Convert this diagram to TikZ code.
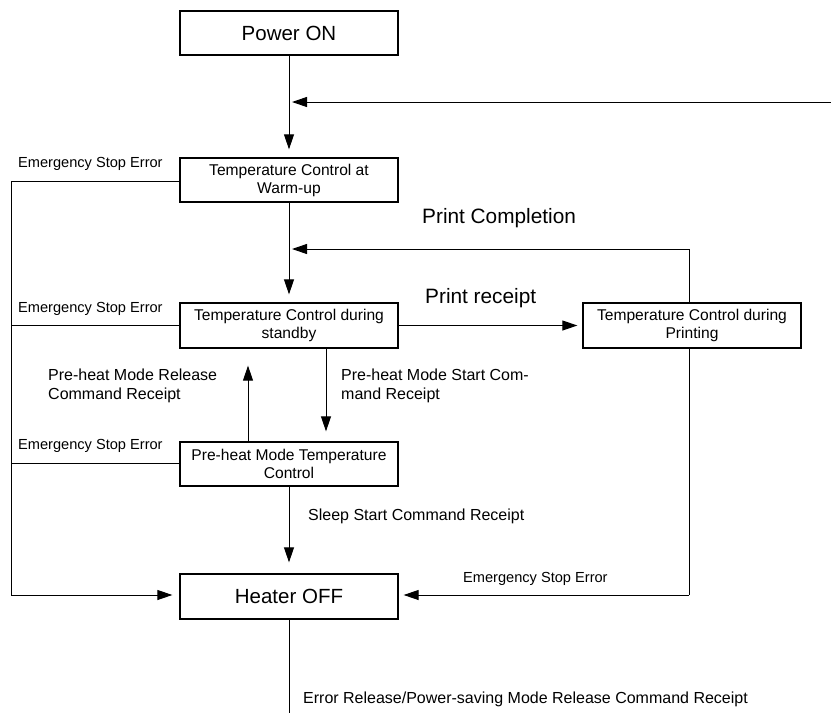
\documentclass[tikz,border=0pt]{standalone}
\usepackage{fontspec}
\setmainfont{Liberation Sans}
\usetikzlibrary{arrows.meta}
\begin{document}
\begin{tikzpicture}[x=1pt,y=-1pt,
  box/.style={draw, line width=1.3pt, minimum width=218pt, inner sep=0pt, align=center},
  bigbox/.style={box, minimum height=44pt, font=\fontsize{20.5}{24}\selectfont},
  smallbox/.style={box, minimum height=44pt, font=\fontsize{15.6}{18}\selectfont},
  conn/.style={line width=1pt, -{Triangle[length=15pt,width=10pt]}},
  plain/.style={line width=1pt},
  lbl/.style={inner sep=0pt, anchor=west, align=left, font=\fontsize{16}{19}\selectfont},
  elbl/.style={inner sep=0pt, anchor=west, font=\fontsize{14.6}{17}\selectfont},
  blbl/.style={inner sep=0pt, anchor=west, font=\fontsize{20.8}{24}\selectfont}]
\useasboundingbox (0,0) rectangle (831,713);
% boxes
\node[bigbox] (power) at (289,33) {Power ON};
\node[smallbox] (warm) at (289,180) {Temperature Control at\\Warm-up};
\node[smallbox, minimum height=45pt] (standby) at (289,325.5) {Temperature Control during\\standby};
\node[smallbox, minimum height=45pt] (printing) at (692,325.5) {Temperature Control during\\Printing};
\node[smallbox] (preheat) at (289,464) {Pre-heat Mode Temperature\\Control};
\node[bigbox, minimum height=45pt] (heater) at (289,596.5) {Heater OFF};
% coordinates
\coordinate (rstart) at (831,102);
\coordinate (rend) at (292,102);
\coordinate (pcTop) at (689,249);
\coordinate (pcEnd) at (292,249);
\coordinate (prBot) at (689,348);
\coordinate (prCorner) at (689,595);
\coordinate (lTop) at (11,181);
\coordinate (lBot) at (11,595);
\coordinate (lMid1) at (11,325);
\coordinate (lMid2) at (11,463);
\coordinate (bottomEnd) at (289,713);
% connectors
\draw[conn, shorten >=8pt] (power.south) -- (warm.north);
\draw[conn] (rstart) -- (rend);
\draw[conn, shorten >=8pt] (warm.south) -- (standby.north);
\draw[plain] (printing.north -| pcTop) -- (pcTop);
\draw[conn] (pcTop) -- (pcEnd);
\draw[conn, shorten >=5pt] (standby.east) -- (printing.west);
\draw[conn, shorten >=10pt] (standby.south -| 326,0) -- (preheat.north -| 326,0);
\draw[conn, shorten >=17pt] (preheat.north -| 248,0) -- (standby.south -| 248,0);
\draw[plain] (warm.west |- lTop) -- (lTop) -- (lBot);
\draw[conn, shorten >=7pt] (lBot) -- (heater.west |- lBot);
\draw[plain] (standby.west |- lMid1) -- (lMid1);
\draw[plain] (preheat.west |- lMid2) -- (lMid2);
\draw[conn, shorten >=11pt] (preheat.south) -- (heater.north);
\draw[plain] (prBot) -- (prCorner);
\draw[conn, shorten >=5pt] (prCorner) -- (heater.east |- prCorner);
\draw[plain] (heater.south) -- (bottomEnd);
% labels
\node[elbl] (e1) at (18,164) {Emergency Stop Error};
\node[elbl] (e2) at (18,309) {Emergency Stop Error};
\node[elbl] (e3) at (18,446) {Emergency Stop Error};
\node[elbl] (e4) at (463,579) {Emergency Stop Error};
\node[blbl] (pc) at (422,218) {Print Completion};
\node[blbl] (pr) at (425,298) {Print receipt};
\node[lbl] (rel) at (48,385.5) {Pre-heat Mode Release\\Command Receipt};
\node[lbl] (st) at (341,385.5) {Pre-heat Mode Start Com-\\mand Receipt};
\node[lbl] (sl) at (308,516) {Sleep Start Command Receipt};
\node[lbl] (er) at (303,699) {Error Release/Power-saving Mode Release Command Receipt};
\end{tikzpicture}
\end{document}
